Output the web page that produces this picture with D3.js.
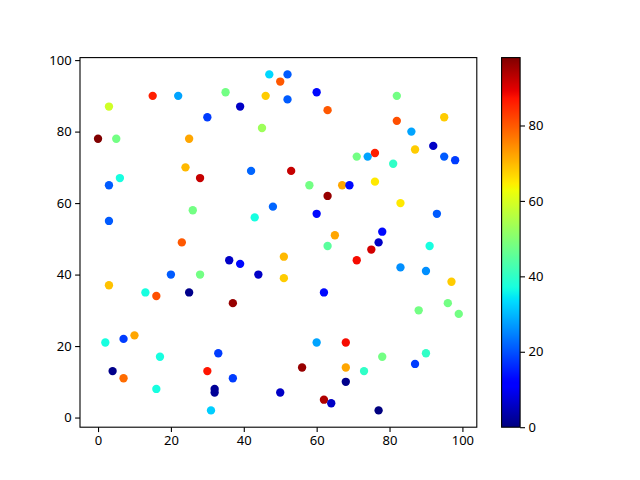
<!DOCTYPE html>
<html><head><meta charset="utf-8">
<script src="https://cdn.jsdelivr.net/npm/d3@7"></script>
<style>body{margin:0;background:#fff}svg{display:block}text{font-family:"Noto Sans",sans-serif;font-size:13px;fill:#000}</style>
</head><body><svg id="c" width="640" height="480"></svg>
<script>
const xVals = [15,22,3,30,0,5,25,24,6,28,47,52,50,35,46,52,60,39,63,45,42,53,82,82,95,86,87,92,95,98,71,74,76,81,76,3,26,3,23,20,28,3,13,16,25,58,67,69,63,48,43,60,65,63,51,36,39,44,51,62,37,83,93,78,77,75,71,91,83,90,97,96,2,7,10,17,33,4,7,30,16,32,32,31,60,68,37,56,68,68,50,62,64,88,99,78,90,87,73,77];
const yVals = [90,90,87,84,78,78,78,70,67,67,96,96,94,91,90,89,91,87,86,81,69,69,90,83,84,80,75,76,73,72,73,73,74,71,66,65,58,55,49,40,40,37,35,34,35,65,65,65,62,59,56,57,51,48,45,44,43,40,39,35,32,60,57,52,49,47,44,48,42,41,38,32,21,22,23,17,18,13,11,13,8,8,7,2,21,21,11,14,14,10,7,5,4,30,29,17,18,15,13,2];
const cVals = [86,28,59,18,98,48,72,70,37,92,33,21,80,48,68,21,13,6,80,53,22,92,48,81,68,28,68,6,21,18,48,28,86,40,65,21,48,21,80,21,48,69,37,81,1,48,72,13,96,22,37,13,72,45,70,6,13,6,68,13,96,65,21,13,6,91,88,37,26,26,68,48,37,18,72,37,18,1,78,87,37,2,2,32,28,88,18,96,72,1,6,94,6,48,48,48,40,18,40,0];
const xTicks = [0,20,40,60,80,100];
const yTicks = [0,20,40,60,80,100];
const cTicks = [0,20,40,60,80];

// matplotlib jet segment data
const jetR = d3.scaleLinear().domain([0,0.35,0.66,0.89,1]).range([0,0,1,1,0.5]).clamp(true);
const jetG = d3.scaleLinear().domain([0,0.125,0.375,0.64,0.91,1]).range([0,0,1,1,0,0]).clamp(true);
const jetB = d3.scaleLinear().domain([0,0.11,0.34,0.65,1]).range([0.5,1,1,0,0]).clamp(true);
const jet = t => d3.rgb(jetR(t)*255, jetG(t)*255, jetB(t)*255).toString();

const svg = d3.select("#c");
const L=80, R=476.8, T=57.6, B=427.2;
const xe = d3.extent(xVals), ye = d3.extent(yVals);
const px = (xe[1]-xe[0])*0.05, py=(ye[1]-ye[0])*0.05;
const x = d3.scaleLinear().domain([xe[0]-px, xe[1]+px]).range([L,R]);
const y = d3.scaleLinear().domain([ye[0]-py, ye[1]+py]).range([B,T]);
const ce = d3.extent(cVals);
const cn = d3.scaleLinear().domain(ce).range([0,1]);

svg.append("g").selectAll("circle").data(xVals.map((v,i)=>i)).join("circle")
  .attr("cx",i=>x(xVals[i])).attr("cy",i=>y(yVals[i])).attr("r",4.17)
  .attr("fill",i=>jet(cn(cVals[i])));

const style = g => { g.selectAll(".domain").remove(); g.selectAll("line").attr("stroke","#000").attr("stroke-width",1.1); g.selectAll("text").attr("font-size",13).attr("font-family","Noto Sans, sans-serif"); };
svg.append("g").attr("transform",`translate(0,${B})`).call(d3.axisBottom(x).tickValues(xTicks).tickSize(4.9).tickPadding(3.5)).call(style);
svg.append("g").attr("transform",`translate(${L},0)`).call(d3.axisLeft(y).tickValues(yTicks).tickSize(4.9).tickPadding(3.5)).call(style);
svg.append("rect").attr("x",L).attr("y",T).attr("width",R-L).attr("height",B-T).attr("fill","none").attr("stroke","#000").attr("stroke-width",1.1);

// colorbar
const cbL=501.6, cbW=18.5;
const defs = svg.append("defs");
const grad = defs.append("linearGradient").attr("id","jg").attr("x1",0).attr("y1",1).attr("x2",0).attr("y2",0);
d3.range(0,1.0001,0.01).forEach(t=>grad.append("stop").attr("offset",t).attr("stop-color",jet(t)));
svg.append("rect").attr("x",cbL).attr("y",T).attr("width",cbW).attr("height",B-T).attr("fill","url(#jg)");
const cy = d3.scaleLinear().domain(ce).range([B,T]);
svg.append("g").attr("transform",`translate(${cbL+cbW},0)`).call(d3.axisRight(cy).tickValues(cTicks).tickSize(4.9).tickPadding(3.5)).call(style);
svg.append("rect").attr("x",cbL).attr("y",T).attr("width",cbW).attr("height",B-T).attr("fill","none").attr("stroke","#000").attr("stroke-width",1.1);
</script></body></html>
